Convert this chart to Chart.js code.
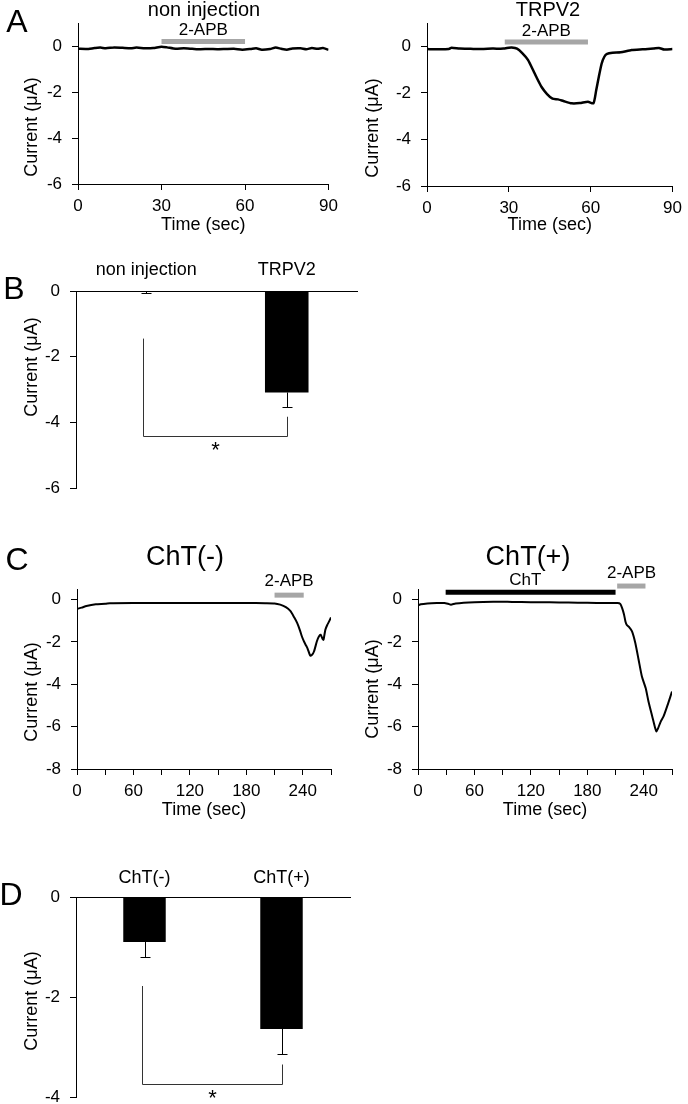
<!DOCTYPE html>
<html>
<head>
<meta charset="utf-8">
<script src="https://cdn.jsdelivr.net/npm/chart.js@4"></script>
<style>
  html, body { margin: 0; padding: 0; background: #fff; overflow: hidden; }
  body { width: 688px; height: 1104px; position: relative; }
  canvas { position: absolute; }
</style>
</head>
<body>
<canvas id="a1" width="344" height="240" style="left:0;top:0"></canvas>
<canvas id="a2" width="344" height="240" style="left:344px;top:0"></canvas>
<canvas id="b" width="380" height="270" style="left:0;top:240px"></canvas>
<canvas id="c1" width="344" height="295" style="left:0;top:530px"></canvas>
<canvas id="c2" width="344" height="295" style="left:344px;top:530px"></canvas>
<canvas id="d" width="380" height="290" style="left:0;top:840px"></canvas>
<script>
// panel A traces (sec, uA)
const nonInjTime = [0, 3, 6, 8, 10, 13, 16, 19, 21, 24, 27, 30, 32, 35, 38, 41, 44, 47, 50, 53, 56, 59, 62, 64, 66, 69, 71, 73, 75, 77, 80, 82, 84, 86, 88, 90];
const nonInjCurrent = [-0.12, -0.13, -0.09, -0.07, -0.1, -0.06, -0.08, -0.1, -0.07, -0.1, -0.09, -0.03, -0.06, -0.12, -0.1, -0.12, -0.14, -0.13, -0.14, -0.13, -0.12, -0.16, -0.13, -0.1, -0.16, -0.13, -0.07, -0.12, -0.16, -0.11, -0.1, -0.14, -0.09, -0.12, -0.09, -0.17];
const trpv2Time = [0, 4, 8, 9, 12, 16, 20, 24, 28, 30, 31, 33, 35, 37, 39, 40, 42, 44, 46, 48, 50, 53, 56, 59, 61, 62, 63, 64, 65, 66, 68, 71, 75, 79, 83, 85, 87, 90];
const trpv2Current = [-0.12, -0.13, -0.12, -0.06, -0.1, -0.11, -0.12, -0.1, -0.1, -0.06, -0.05, -0.1, -0.3, -0.58, -1.05, -1.3, -1.75, -2.05, -2.25, -2.28, -2.35, -2.45, -2.44, -2.38, -2.45, -1.9, -1.3, -0.75, -0.45, -0.33, -0.28, -0.26, -0.16, -0.13, -0.1, -0.07, -0.14, -0.12];

// panel B summary
const bLabels = ['non injection', 'TRPV2'];
const bMeans = [-0.03, -3.09];
const bErrors = [0.03, 0.43];
const bBracket = [-1.45, -3.83, -4.41]; // left top, right top, bottom

// panel C traces
const chtMinusTime = [0, 5, 10, 20, 30, 35, 60, 90, 120, 150, 180, 200, 210, 216, 222, 227, 231, 234, 237, 239, 241, 243, 245, 248, 250, 252, 255, 257, 259, 261, 262, 264, 266, 268, 270];
const chtMinusCurrent = [-0.44, -0.38, -0.3, -0.22, -0.2, -0.17, -0.16, -0.16, -0.16, -0.16, -0.16, -0.17, -0.18, -0.24, -0.36, -0.55, -0.85, -1.1, -1.45, -1.73, -1.95, -2.13, -2.3, -2.65, -2.6, -2.44, -1.97, -1.75, -1.66, -1.85, -1.9, -1.42, -1.2, -1.03, -0.84];
const chtPlusTime = [0, 3, 10, 20, 28, 32, 35, 40, 60, 80, 100, 120, 140, 160, 180, 200, 212, 215, 217, 219, 220.5, 222, 224, 227.5, 231, 234.5, 238, 242, 245, 249, 252, 253.5, 255, 258, 261, 266, 270];
const chtPlusCurrent = [-0.28, -0.22, -0.18, -0.16, -0.16, -0.2, -0.24, -0.18, -0.12, -0.1, -0.11, -0.12, -0.13, -0.14, -0.15, -0.16, -0.16, -0.2, -0.4, -0.7, -1.03, -1.2, -1.28, -1.5, -2.05, -2.84, -3.63, -4.18, -4.81, -5.52, -6.05, -6.23, -6.1, -5.76, -5.52, -4.89, -4.34];

// panel D summary
const dLabels = ['ChT(-)', 'ChT(+)'];
const dMeans = [-0.9, -2.64];
const dErrors = [0.29, 0.49];
const dBracket = [-1.78, -3.35, -3.73];

const FONT = "'Liberation Sans', Arial, sans-serif";
const GRAY = '#a6a6a6';
Chart.defaults.font.family = FONT;
Chart.defaults.color = '#000';

function marks(spec) {
  return {
    id: 'marks',
    afterDraw(chart) {
      const {ctx} = chart;
      const x = chart.scales.x, y = chart.scales.y;
      ctx.save();
      ctx.textAlign = 'center';
      ctx.textBaseline = 'middle';
      ctx.fillStyle = '#000';

      (spec.bars || []).forEach(b => {
        const py = y.getPixelForValue(b.y);
        ctx.strokeStyle = b.color;
        ctx.lineWidth = 5;
        ctx.beginPath();
        ctx.moveTo(x.getPixelForValue(b.from), py);
        ctx.lineTo(x.getPixelForValue(b.to), py);
        ctx.stroke();
        ctx.font = '17px ' + FONT;
        const lx = b.labelX !== undefined ? b.labelX : (b.from + b.to) / 2;
        ctx.fillText(b.label, x.getPixelForValue(lx), y.getPixelForValue(b.labelY));
      });

      if (spec.errors) {
        const meta = chart.getDatasetMeta(0);
        const vals = chart.data.datasets[0].data;
        ctx.strokeStyle = '#000';
        ctx.lineWidth = 1;
        meta.data.forEach((bar, i) => {
          const y0 = y.getPixelForValue(vals[i]);
          const y1 = Math.round(y.getPixelForValue(vals[i] - spec.errors[i])) + 0.5;
          const bx = Math.round(bar.x) + 0.5;
          ctx.beginPath();
          ctx.moveTo(bx, y0);
          ctx.lineTo(bx, y1);
          ctx.moveTo(bx - 5, y1);
          ctx.lineTo(bx + 5, y1);
          ctx.stroke();
        });
      }

      if (spec.bracket) {
        const [lt, rt, bot] = spec.bracket;
        const x0 = Math.round(x.getPixelForValue(0)) - 2.5;
        const x1 = Math.round(x.getPixelForValue(1)) + 0.5;
        const yb = Math.round(y.getPixelForValue(bot)) + 0.5;
        ctx.strokeStyle = '#333';
        ctx.lineWidth = 1;
        ctx.beginPath();
        ctx.moveTo(x0, y.getPixelForValue(lt));
        ctx.lineTo(x0, yb);
        ctx.lineTo(x1, yb);
        ctx.lineTo(x1, y.getPixelForValue(rt));
        ctx.stroke();
        ctx.font = '22px ' + FONT;
        ctx.textBaseline = 'top';
        ctx.fillText('*', (x0 + x1) / 2, yb + 3);
        ctx.textBaseline = 'middle';
      }

      (spec.texts || []).forEach(t => {
        ctx.font = t.size + 'px ' + FONT;
        ctx.save();
        ctx.translate(t.x, t.y);
        if (t.rot) ctx.rotate(-Math.PI / 2);
        ctx.fillText(t.text, 0, 0);
        ctx.restore();
      });
      ctx.restore();
    }
  };
}

function axisLines(extra) {
  return Object.assign({
    grid: {display: true, drawOnChartArea: false, drawTicks: true, tickLength: 6, color: '#000'},
    border: {display: true, color: '#000', width: 1}
  }, extra);
}

function traceChart(id, times, currents, opt) {
  const canvas = document.getElementById(id);
  const W = canvas.width, H = canvas.height;
  const area = opt.area;
  return new Chart(canvas, {
    type: 'line',
    data: {
      datasets: [{
        data: times.map((t, i) => ({x: t, y: currents[i]})),
        borderColor: '#000',
        borderWidth: opt.lineWidth,
        pointRadius: 0,
        tension: 0.2,
      }],
    },
    options: {
      responsive: false,
      animation: false,
      events: [],
      layout: {padding: {left: 0, top: area.t, right: W - area.r, bottom: 0}},
      plugins: {legend: {display: false}, tooltip: {enabled: false}},
      scales: {
        x: axisLines({
          type: 'linear',
          min: 0,
          max: opt.xMax,
          afterFit: s => { s.height = H - area.b; },
          ticks: {
            stepSize: opt.xStep, autoSkip: false, maxRotation: 0, padding: 6,
            font: {size: 17},
            callback: v => (v % opt.xLabelStep === 0 ? String(v) : ''),
          },
          title: {display: true, text: 'Time (sec)', font: {size: 18}, padding: {top: 0, bottom: 4}},
        }),
        y: axisLines({
          min: opt.yMin,
          max: opt.yMax,
          afterFit: s => { s.width = area.l; },
          ticks: {stepSize: 2, includeBounds: false, padding: 10, font: {size: 17}},
        }),
      },
    },
    plugins: [marks(opt.marks)],
  });
}

function barChart(id, labels, means, errors, bracket, opt) {
  const canvas = document.getElementById(id);
  const W = canvas.width, H = canvas.height;
  const area = opt.area;
  return new Chart(canvas, {
    type: 'bar',
    data: {
      labels: labels,
      datasets: [{data: means, backgroundColor: '#000', barPercentage: 0.31, categoryPercentage: 1}],
    },
    options: {
      responsive: false,
      animation: false,
      events: [],
      layout: {padding: {left: 0, top: 0, right: W - area.r, bottom: H - area.b}},
      plugins: {legend: {display: false}, tooltip: {enabled: false}},
      scales: {
        x: {
          position: 'top',
          afterFit: s => { s.height = area.t; },
          grid: {display: false},
          border: {display: true, color: '#000', width: 1},
          ticks: {padding: opt.labelPad, font: {size: 18}},
        },
        y: axisLines({
          min: opt.yMin,
          max: 0,
          afterFit: s => { s.width = area.l; },
          ticks: {stepSize: 2, padding: 10, font: {size: 17}},
        }),
      },
    },
    plugins: [marks({errors: errors, bracket: bracket, texts: opt.texts})],
  });
}

traceChart('a1', nonInjTime, nonInjCurrent, {
  area: {l: 78, t: 23, r: 333, b: 184},
  xMax: 90, xStep: 30, xLabelStep: 30, yMin: -6, yMax: 1, lineWidth: 2.5,
  marks: {
    bars: [{from: 30, to: 60, y: 0.2, color: GRAY, label: '2-APB', labelY: 0.7}],
    texts: [
      {text: 'A', x: 17, y: 23, size: 32},
      {text: 'non injection', x: 204, y: 10, size: 20},
      {text: 'Current (\u03bcA)', x: 32, y: 127, size: 18, rot: true},
    ],
  },
});

traceChart('a2', trpv2Time, trpv2Current, {
  area: {l: 83, t: 23, r: 332, b: 186},
  xMax: 90, xStep: 30, xLabelStep: 30, yMin: -6, yMax: 1, lineWidth: 2.5,
  marks: {
    bars: [{from: 28.5, to: 59, y: 0.18, color: GRAY, label: '2-APB', labelY: 0.65}],
    texts: [
      {text: 'TRPV2', x: 204, y: 10, size: 20},
      {text: 'Current (\u03bcA)', x: 29, y: 128, size: 18, rot: true},
    ],
  },
});

barChart('b', bLabels, bMeans, bErrors, bBracket, {
  area: {l: 76, t: 51, r: 357, b: 248},
  yMin: -6, labelPad: 2,
  texts: [
    {text: 'B', x: 14, y: 50, size: 32},
    {text: 'Current (\u03bcA)', x: 32, y: 127, size: 18, rot: true},
  ],
});

traceChart('c1', chtMinusTime, chtMinusCurrent, {
  area: {l: 77, t: 59, r: 331, b: 239},
  xMax: 270, xStep: 30, xLabelStep: 60, yMin: -8, yMax: 0.5, lineWidth: 2,
  marks: {
    bars: [{from: 210, to: 241, y: 0.21, color: GRAY, label: '2-APB', labelY: 0.87}],
    texts: [
      {text: 'C', x: 17, y: 31, size: 32},
      {text: 'ChT(-)', x: 185, y: 28, size: 27},
      {text: 'Current (\u03bcA)', x: 32, y: 162, size: 18, rot: true},
    ],
  },
});

traceChart('c2', chtPlusTime, chtPlusCurrent, {
  area: {l: 74, t: 59, r: 328, b: 239},
  xMax: 270, xStep: 30, xLabelStep: 60, yMin: -8, yMax: 0.5, lineWidth: 2,
  marks: {
    bars: [
      {from: 29.4, to: 210, y: 0.35, color: '#000', label: 'ChT', labelX: 114, labelY: 0.9},
      {from: 211.7, to: 241.8, y: 0.64, color: GRAY, label: '2-APB', labelX: 227, labelY: 1.23},
    ],
    texts: [
      {text: 'ChT(+)', x: 184, y: 28, size: 27},
      {text: 'Current (\u03bcA)', x: 29, y: 159, size: 18, rot: true},
    ],
  },
});

barChart('d', dLabels, dMeans, dErrors, dBracket, {
  area: {l: 76, t: 57, r: 350, b: 257},
  yMin: -4, labelPad: 0,
  texts: [
    {text: 'D', x: 11, y: 56, size: 32},
    {text: 'Current (\u03bcA)', x: 32, y: 161, size: 18, rot: true},
  ],
});
</script>
</body>
</html>
